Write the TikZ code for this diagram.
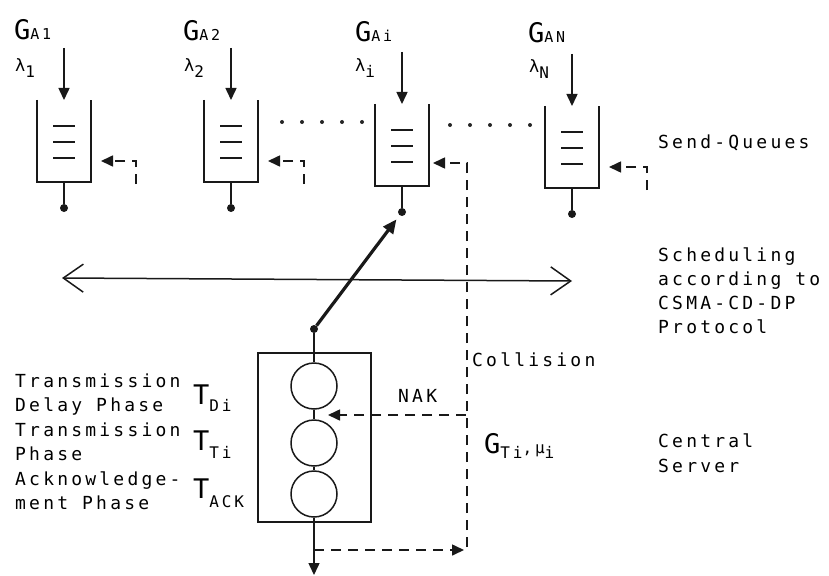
\documentclass[tikz,border=0pt]{standalone}
\usepackage{fontspec}
\setmainfont{DejaVu Sans Mono}
\newfontfamily\tw[LetterSpace=17.8]{DejaVu Sans Mono}
\usetikzlibrary{arrows.meta}
\newcommand\txtfont{\tw\fontsize{18}{18}\selectfont}
\newcommand\bigfont{\tw\fontsize{27}{27}\selectfont}
\newcommand\subfont{\tw\fontsize{16}{16}\selectfont}
\newcommand\smfont{\tw\fontsize{15}{15}\selectfont}
\newcommand\lamfont{\tw\fontsize{17}{17}\selectfont}
\tikzset{
  txt/.style={font=\txtfont, inner sep=0pt, anchor=base west},
  ln/.style={line width=1.5pt, draw=black!90},
  dsh/.style={line width=1.6pt, draw=black!90, dash pattern=on 10pt off 7pt},
  tri/.style={-{Triangle[length=12pt,width=11pt]}},
  dot/.style={circle, fill=black!90, inner sep=0pt, minimum size=8pt},
  srvcirc/.style={circle, draw=black!90, line width=1.5pt, minimum size=46pt, inner sep=0pt},
  dotted row/.style={line width=4pt, line cap=round, dash pattern=on 0pt off 20pt, draw=black!85},
}
% queue: name, centre x, top y, feedback corner offset (or n for none)
\newcommand\sendq[4]{%
  \coordinate (#1tl) at (#2-27,#3);
  \coordinate (#1bl) at (#2-27,#3+82);
  \coordinate (#1br) at (#2+27,#3+82);
  \coordinate (#1tr) at (#2+27,#3);
  \draw[ln] (#1tl) -- (#1bl) -- (#1br) -- (#1tr);
  \foreach \k in {26,42,58} \draw[ln] (#2-11,#3+\k) -- (#2+11,#3+\k);
  \coordinate (#1out) at (#2,#3+82);
  \node[dot] (#1dot) at (#2,#3+108) {};
  \draw[ln] (#1out) -- (#1dot);
  \coordinate (#1in) at (#2,#3-52);
  \coordinate (#1intip) at (#2,#3);
  \draw[ln,tri] (#1in) -- (#1intip);
  \coordinate (#1fb) at (#2+37,#3+61);
  \ifx#4n\else
    \coordinate (#1fbs) at (#2+#4,#3+84);
    \draw[dsh,tri] (#1fbs) |- (#1fb);
  \fi
}
\begin{document}
\begin{tikzpicture}[x=1pt,y=-1pt]
\useasboundingbox[fill=white] (0,0) rectangle (829,575);

% send queues
\sendq{qa}{64}{100}{72}
\sendq{qb}{231}{100}{73}
\sendq{qi}{402}{104}{n}
\sendq{qn}{572}{106}{75}

% dotted rows between queues
\coordinate (d1s) at (282,122);
\coordinate (d1e) at (363,122);
\coordinate (d2s) at (450,125);
\coordinate (d2e) at (531,125);
\draw[dotted row] (d1s) -- (d1e);
\draw[dotted row] (d2s) -- (d2e);

% queue labels
\node[txt] (ga1) at (14,40) {{\bigfont G}{\smfont A1}};
\node[txt] (la1) at (15,72) {{\lamfont λ}\raisebox{-6pt}{\subfont 1}};
\node[txt] (ga2) at (183,41) {{\bigfont G}{\smfont A2}};
\node[txt] (la2) at (184,72) {{\lamfont λ}\raisebox{-6pt}{\subfont 2}};
\node[txt] (gai) at (355,42) {{\bigfont G}{\smfont Ai}};
\node[txt] (lai) at (355,72) {{\lamfont λ}\raisebox{-6pt}{\subfont i}};
\node[txt] (gan) at (528,43) {{\bigfont G}{\smfont AN}};
\node[txt] (lan) at (529,73) {{\lamfont λ}\raisebox{-6pt}{\subfont N}};

\node[txt] (sendq) at (658,148) {Send-Queues};

% scheduling bus
\coordinate (busl) at (62,278);
\coordinate (busr) at (572,281);
\draw[ln, {Straight Barb[length=20pt,width=28pt]}-{Straight Barb[length=20pt,width=28pt]}] (busl) -- (busr);
\node[txt] (sch1) at (658,261) {Scheduling};
\node[txt] (sch2) at (658,285) {according to};
\node[txt] (sch3) at (658,309) {CSMA-CD-DP};
\node[txt] (sch4) at (658,333) {Protocol};

% central server
\node[draw=black!90, line width=1.5pt, minimum width=113pt, minimum height=169pt, inner sep=0pt] (srv) at (314.5,437.5) {};
\node[srvcirc] (c1) at (314,386) {};
\node[srvcirc] (c2) at (314,443) {};
\node[srvcirc] (c3) at (314,494) {};
\node[dot] (sdot) at (314,329) {};
\coordinate (outtip) at (314,575);
\draw[ln] (sdot) -- (c1);
\draw[ln] (c1) -- (c2);
\draw[ln] (c2) -- (c3);
\draw[ln,tri] (c3) -- (outtip);

% thick connection server -> queue i
\draw[line width=3.2pt, draw=black!90, -{Triangle[length=14pt,width=12pt]}, shorten >=5pt] (sdot) -- (qidot);

% feedback (dashed)
\coordinate (tap) at (314,550);
\coordinate (fbtip) at (464,550);
\coordinate (fbup) at (467,547);
\coordinate (qifbend) at (433,163);
\draw[dsh,tri] (tap) -- (fbtip);
\draw[dsh,tri] (fbup) |- (qifbend);
\coordinate (naks) at (466,415);
\coordinate (nake) at (328,415);
\draw[dsh,tri] (naks) -- (nake);

\node[txt] (coll) at (472,366) {Collision};
\node[txt] (nak) at (398,402) {NAK};
\node[txt] (gti) at (484,453) {{\bigfont G}\raisebox{-5pt}{\subfont Ti}{\subfont,}{\subfont μ}\raisebox{-5pt}{\subfont i}};
\node[txt] (cs1) at (658,447) {Central};
\node[txt] (cs2) at (658,472) {Server};

% phase labels
\node[txt] (p1) at (15,387) {Transmission};
\node[txt] (p2) at (15,411.5) {Delay Phase};
\node[txt] (p3) at (15,436) {Transmission};
\node[txt] (p4) at (15,460.5) {Phase};
\node[txt] (p5) at (15,485) {Acknowledge-};
\node[txt] (p6) at (15,509) {ment Phase};
\node[txt] (tdi) at (193,404) {{\bigfont T}\raisebox{-7pt}{\subfont Di}};
\node[txt] (tti) at (193,450) {{\bigfont T}\raisebox{-8pt}{\subfont Ti}};
\node[txt] (tack) at (193,498) {{\bigfont T}\raisebox{-9pt}{\subfont ACK}};
\end{tikzpicture}
\end{document}
